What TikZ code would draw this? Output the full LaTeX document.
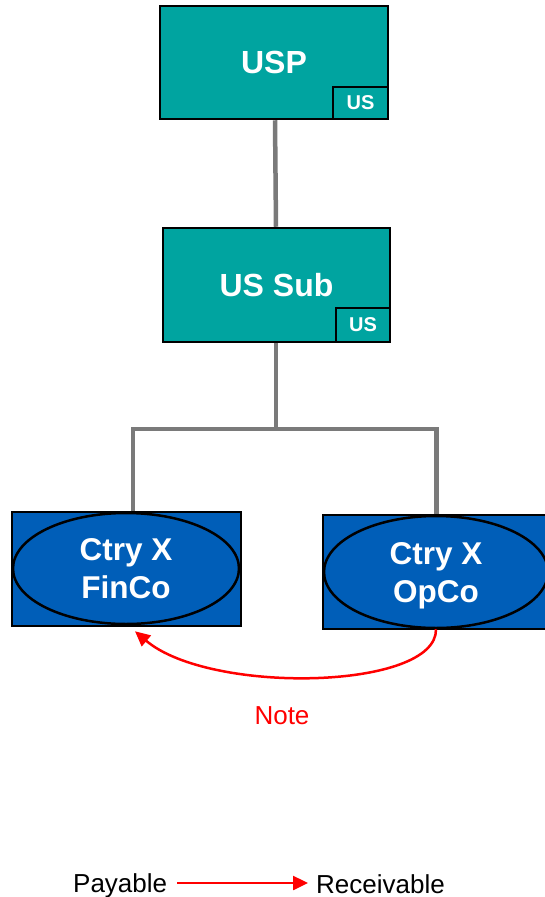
\documentclass[tikz,border=0pt]{standalone}
\usepackage{fontspec}
\setmainfont{Liberation Sans}
\usetikzlibrary{shapes.geometric,arrows.meta,backgrounds}
\definecolor{entityteal}{RGB}{0,164,160}
\definecolor{entityblue}{RGB}{0,94,184}
\definecolor{linkgrey}{RGB}{122,122,122}
\tikzset{
  entity/.style={draw=black, line width=2.5pt, fill=entityteal, text=white,
    font=\bfseries\fontsize{32}{38}\selectfont, inner sep=0pt},
  tag/.style={draw=black, line width=2.5pt, fill=entityteal, text=white,
    font=\bfseries\fontsize{20}{24}\selectfont, inner sep=0pt, anchor=south east},
  frame/.style={draw=black, line width=2.5pt, fill=entityblue, inner sep=0pt},
  oval/.style={ellipse, draw=black, line width=2.5pt, fill=entityblue, text=white,
    align=center, font=\bfseries\fontsize{31.5}{38}\selectfont, inner sep=0pt,
    text depth=0pt},
  link/.style={draw=linkgrey, line width=4.5pt},
  flow/.style={draw=red, line width=2.5pt, -{Triangle[length=15pt,width=14pt]}},
  label/.style={inner sep=0pt, font=\fontsize{26}{31}\selectfont}
}
\begin{document}
\begin{tikzpicture}[x=1pt, y=-1pt]
\useasboundingbox (0,0) rectangle (544,897);

% parent and US subsidiary
\node[entity, minimum width=228pt, minimum height=113pt] (usp) at (274,62.5) {USP};
\node[tag, minimum width=55pt, minimum height=32pt] (usptag) at (usp.south east) {US};

\node[entity, minimum width=227pt, minimum height=114pt] (ussub) at (276.5,285) {US Sub};
\node[tag, minimum width=54pt, minimum height=34pt] (ussubtag) at (ussub.south east) {US};

% country X entities
\node[frame, minimum width=229pt, minimum height=114pt] (finbox) at (126.5,569) {};
\node[oval, minimum width=226pt, minimum height=111pt] (fin) at (126,568.5) {Ctry X\\FinCo};

\node[frame, minimum width=227pt, minimum height=114pt] (opbox) at (436.5,572) {};
\node[oval, minimum width=224pt, minimum height=112pt] (op) at (436,572) {Ctry X\\OpCo};

% ownership lines
\coordinate (bus) at (276,429);
\begin{scope}[on background layer]
  \draw[link] ([xshift=1pt]usp.south) -- ([xshift=-0.5pt]ussub.north);
  \draw[link] ([xshift=-0.5pt]ussub.south) -- (bus);
  \draw[link] ([xshift=6.5pt]finbox.north) |- (bus) -| (opbox.north);
\end{scope}

% intercompany note
\coordinate (notetip) at ([shift={(9,6)}]fin.south);
\draw[flow] (op.south) .. controls (437,690) and (210,695) .. (notetip);
\node[label, text=red, anchor=base] (note) at (282,724) {Note};

% legend
\node[label, anchor=base west] (pay) at (73,892) {Payable};
\node[label, anchor=base west] (rec) at (316,893) {Receivable};
\coordinate (legstart) at (177,883);
\coordinate (legend) at (308,883);
\draw[flow] (legstart) -- (legend);
\end{tikzpicture}
\end{document}
